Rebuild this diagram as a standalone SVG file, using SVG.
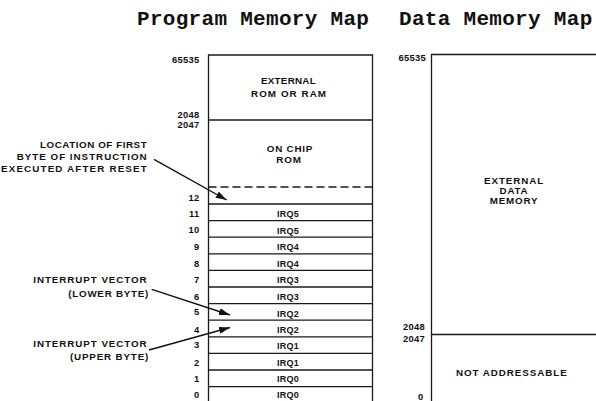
<svg xmlns="http://www.w3.org/2000/svg" width="596" height="401" viewBox="0 0 596 401">
<style>
.title{font-family:"Liberation Mono","Courier New",monospace;font-size:21px;font-weight:bold;letter-spacing:0.3px;fill:#111}
.lbl{font-family:"Liberation Sans",Arial,Helvetica,sans-serif;font-weight:bold;font-size:9.8px;fill:#111}
.num{font-family:"Liberation Sans",Arial,Helvetica,sans-serif;font-weight:bold;font-size:9.4px;letter-spacing:0.3px;fill:#111;text-anchor:end}
.irq{font-family:"Liberation Sans",Arial,Helvetica,sans-serif;font-weight:bold;font-size:9px;letter-spacing:0.2px;fill:#111;text-anchor:middle}
.mid{text-anchor:middle;letter-spacing:0.8px}
.box{fill:none;stroke:#1a1a1a;stroke-width:1.3}
.dash{fill:none;stroke:#1a1a1a;stroke-width:1.3;stroke-dasharray:8 4}
.arrow{fill:none;stroke:#111;stroke-width:1.4;marker-end:url(#ah)}
</style>
<defs>
<marker id="ah" viewBox="0 0 11 7" refX="11" refY="3.5" markerWidth="11" markerHeight="7" markerUnits="userSpaceOnUse" orient="auto">
<path d="M0,0 L11,3.5 L0,7 Z" fill="#111"/>
</marker>
</defs>
<rect width="596" height="401" fill="#fff"/>

<g id="titles">
<text class="title" x="137" y="24.5">Program Memory Map</text>
<text class="title" x="399" y="24.5">Data Memory Map</text>
</g>

<g id="program-map">
<path class="box" d="M208.5,405 V55 H372.5 V405"/>
<line class="box" x1="208.5" y1="120" x2="372.5" y2="120"/>
<line class="dash" x1="208.5" y1="187" x2="372.5" y2="187"/>
<g class="box">
<line x1="208.5" y1="204" x2="372.5" y2="204"/>
<line x1="208.5" y1="220.6" x2="372.5" y2="220.6"/>
<line x1="208.5" y1="237.2" x2="372.5" y2="237.2"/>
<line x1="208.5" y1="253.8" x2="372.5" y2="253.8"/>
<line x1="208.5" y1="270.4" x2="372.5" y2="270.4"/>
<line x1="208.5" y1="287" x2="372.5" y2="287"/>
<line x1="208.5" y1="303.6" x2="372.5" y2="303.6"/>
<line x1="208.5" y1="320.2" x2="372.5" y2="320.2"/>
<line x1="208.5" y1="336.8" x2="372.5" y2="336.8"/>
<line x1="208.5" y1="353.4" x2="372.5" y2="353.4"/>
<line x1="208.5" y1="370" x2="372.5" y2="370"/>
<line x1="208.5" y1="386.6" x2="372.5" y2="386.6"/>
</g>
<text class="lbl" x="261" y="84" textLength="54.7" lengthAdjust="spacing">EXTERNAL</text>
<text class="lbl" x="251" y="96.7" textLength="75" lengthAdjust="spacing">ROM OR RAM</text>
<text class="lbl mid" x="290" y="151.7">ON CHIP</text>
<text class="lbl mid" x="289" y="163">ROM</text>
<text class="num" x="199.5" y="62.5">65535</text>
<text class="num" x="199.5" y="118">2048</text>
<text class="num" x="199.5" y="128.3">2047</text>
<text class="num" x="199.5" y="200.5">12</text>
<text class="num" x="199.5" y="216.7">11</text>
<text class="num" x="199.5" y="233.3">10</text>
<text class="num" x="199.5" y="250">9</text>
<text class="num" x="199.5" y="266.7">8</text>
<text class="num" x="199.5" y="283.3">7</text>
<text class="num" x="199.5" y="300">6</text>
<text class="num" x="199.5" y="315">5</text>
<text class="num" x="199.5" y="333.3">4</text>
<text class="num" x="199.5" y="348.3">3</text>
<text class="num" x="199.5" y="365.7">2</text>
<text class="num" x="199.5" y="382">1</text>
<text class="num" x="199.5" y="397.5">0</text>
<text class="irq" x="288" y="217.3">IRQ5</text>
<text class="irq" x="288" y="233.5">IRQ5</text>
<text class="irq" x="288" y="250">IRQ4</text>
<text class="irq" x="288" y="266.7">IRQ4</text>
<text class="irq" x="288" y="283.3">IRQ3</text>
<text class="irq" x="288" y="300">IRQ3</text>
<text class="irq" x="288" y="316.7">IRQ2</text>
<text class="irq" x="288" y="332.5">IRQ2</text>
<text class="irq" x="288" y="349">IRQ1</text>
<text class="irq" x="288" y="365.7">IRQ1</text>
<text class="irq" x="288" y="382.3">IRQ0</text>
<text class="irq" x="288" y="398.3">IRQ0</text>
</g>

<g id="data-map">
<path class="box" d="M431.5,405 V54.5 H600"/>
<line class="box" x1="431.5" y1="334.5" x2="600" y2="334.5"/>
<text class="lbl" x="484" y="184" textLength="59.3" lengthAdjust="spacing">EXTERNAL</text>
<text class="lbl mid" x="514" y="194.3">DATA</text>
<text class="lbl mid" x="514" y="204">MEMORY</text>
<text class="lbl" x="456" y="376" textLength="110.7" lengthAdjust="spacing">NOT ADDRESSABLE</text>
<text class="num" x="426" y="60.5">65535</text>
<text class="num" x="425" y="330">2048</text>
<text class="num" x="425" y="341.7">2047</text>
<text class="num" x="423.5" y="400">0</text>
</g>

<g id="reset-note">
<text class="lbl" x="40" y="148.3" textLength="106.7" lengthAdjust="spacing">LOCATION OF FIRST</text>
<text class="lbl" x="16.7" y="160" textLength="130" lengthAdjust="spacing">BYTE OF INSTRUCTION</text>
<text class="lbl" x="1" y="171.7" textLength="145.7" lengthAdjust="spacing">EXECUTED AFTER RESET</text>
</g>

<g id="lower-byte-note">
<text class="lbl" x="33.3" y="283" textLength="113.4" lengthAdjust="spacing">INTERRUPT VECTOR</text>
<text class="lbl" x="68.3" y="297" textLength="80" lengthAdjust="spacing">(LOWER BYTE)</text>
</g>

<g id="upper-byte-note">
<text class="lbl" x="33.3" y="347.3" textLength="113.4" lengthAdjust="spacing">INTERRUPT VECTOR</text>
<text class="lbl" x="70" y="360" textLength="78.3" lengthAdjust="spacing">(UPPER BYTE)</text>
</g>

<g id="connectors">
<line class="arrow" x1="154" y1="159.3" x2="226.7" y2="200"/>
<line class="arrow" x1="151.7" y1="289.3" x2="230" y2="315"/>
<line class="arrow" x1="149" y1="350" x2="230" y2="327.5"/>
</g>
</svg>
